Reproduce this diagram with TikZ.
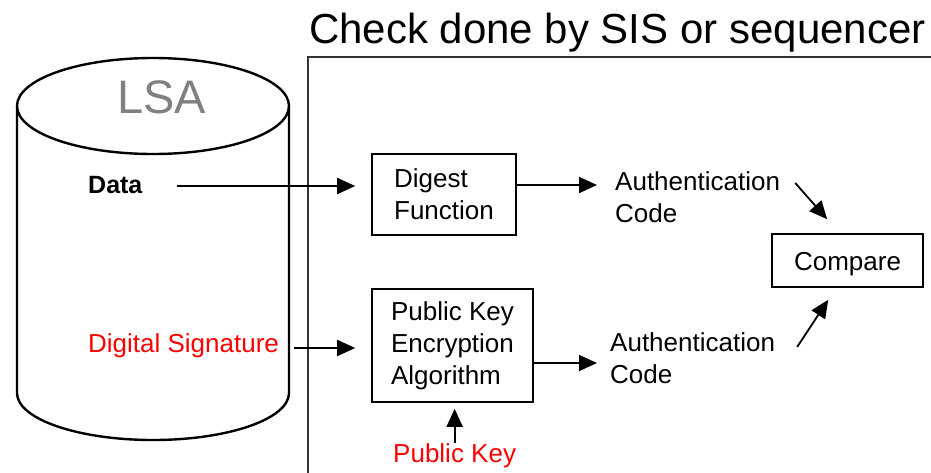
\documentclass[tikz,border=0pt]{standalone}
\usepackage{fontspec}
\setmainfont{Liberation Sans}
\usetikzlibrary{arrows.meta,calc}
\begin{document}
\begin{tikzpicture}[x=1pt,y=-1pt,
  lbl/.style={inner sep=0pt,font=\fontsize{26}{32}\selectfont,align=left},
  box/.style={draw,line width=1.6pt,inner sep=0pt,font=\fontsize{26}{32}\selectfont,align=left},
  arr/.style={line width=1.8pt,-{Triangle[length=18pt,width=16pt]}},
  frame/.style={line width=2pt,black!80},
  drum/.style={line width=2.4pt},
]
\useasboundingbox (0,0) rectangle (931,472);

% storage drum
\draw[drum] (17,106) -- (17,393)
  arc[start angle=180,end angle=360,x radius=136pt,y radius=47pt] -- (289,106);
\draw[drum] (153,106) ellipse[x radius=136pt,y radius=48pt];
\node[inner sep=0pt,anchor=base,text=gray,font=\fontsize{47}{50}\selectfont] (lsa) at (161.5,113) {LSA};

% checking area
\draw[frame] (940,57) -- (308,57) -- (308,480);
\node[inner sep=0pt,anchor=base west,font=\fontsize{42}{50}\selectfont] (title) at (309,43) {Check done by SIS or sequencer};

% inputs
\node[lbl,font=\bfseries\fontsize{25}{30}\selectfont,anchor=base west] (data) at (88,193) {Data};
\node[lbl,text=red,anchor=base west] (ds) at (88,352) {Digital Signature};

% processing blocks
\node[box,minimum width=144pt,minimum height=81pt] (digest) at (444,194.5) {Digest\\Function};
\node[box,minimum width=161pt,minimum height=113pt] (pkbox) at (452.5,345.5) {Public Key\\Encryption\\Algorithm};
\node[box,minimum width=151pt,minimum height=53pt,text height=19pt,text depth=0pt] (cmp) at (847.5,260.5) {Compare};

% results and key (base anchor sits on the last line)
\node[lbl,anchor=base west] (auth1) at (615,222) {Authentication\\Code};
\node[lbl,anchor=base west] (auth2) at (610,383) {Authentication\\Code};
\node[lbl,text=red,anchor=base west] (pkey) at (393,462) {Public Key};

% connectors
\draw[arr,shorten <=34pt,shorten >=16pt] ([yshift=7pt]data.base east) -- ([yshift=7pt]data.base east -| digest.west);
\draw[arr,shorten >=18pt] ([yshift=9.5pt]digest.east) -- ([yshift=9.5pt]digest.east -| auth1.west);
\draw[arr,shorten <=15pt,shorten >=16pt] ([yshift=4pt]ds.base east) -- ([yshift=4pt]ds.base east -| pkbox.west);
\draw[arr,shorten >=13pt] ([yshift=-17.5pt]pkbox.east) -- ([yshift=-17.5pt]pkbox.east -| auth2.west);
\draw[arr,shorten >=6pt] (pkey.north) -- (pkey.north |- pkbox.south);
\draw[arr] ([xshift=15pt,yshift=-12pt]auth1.north east) -- ([xshift=56pt,yshift=14pt]cmp.north west);
\draw[arr] ([xshift=22pt,yshift=-15pt]auth2.north east) -- ([xshift=57pt,yshift=-12pt]cmp.south west);
\end{tikzpicture}
\end{document}
